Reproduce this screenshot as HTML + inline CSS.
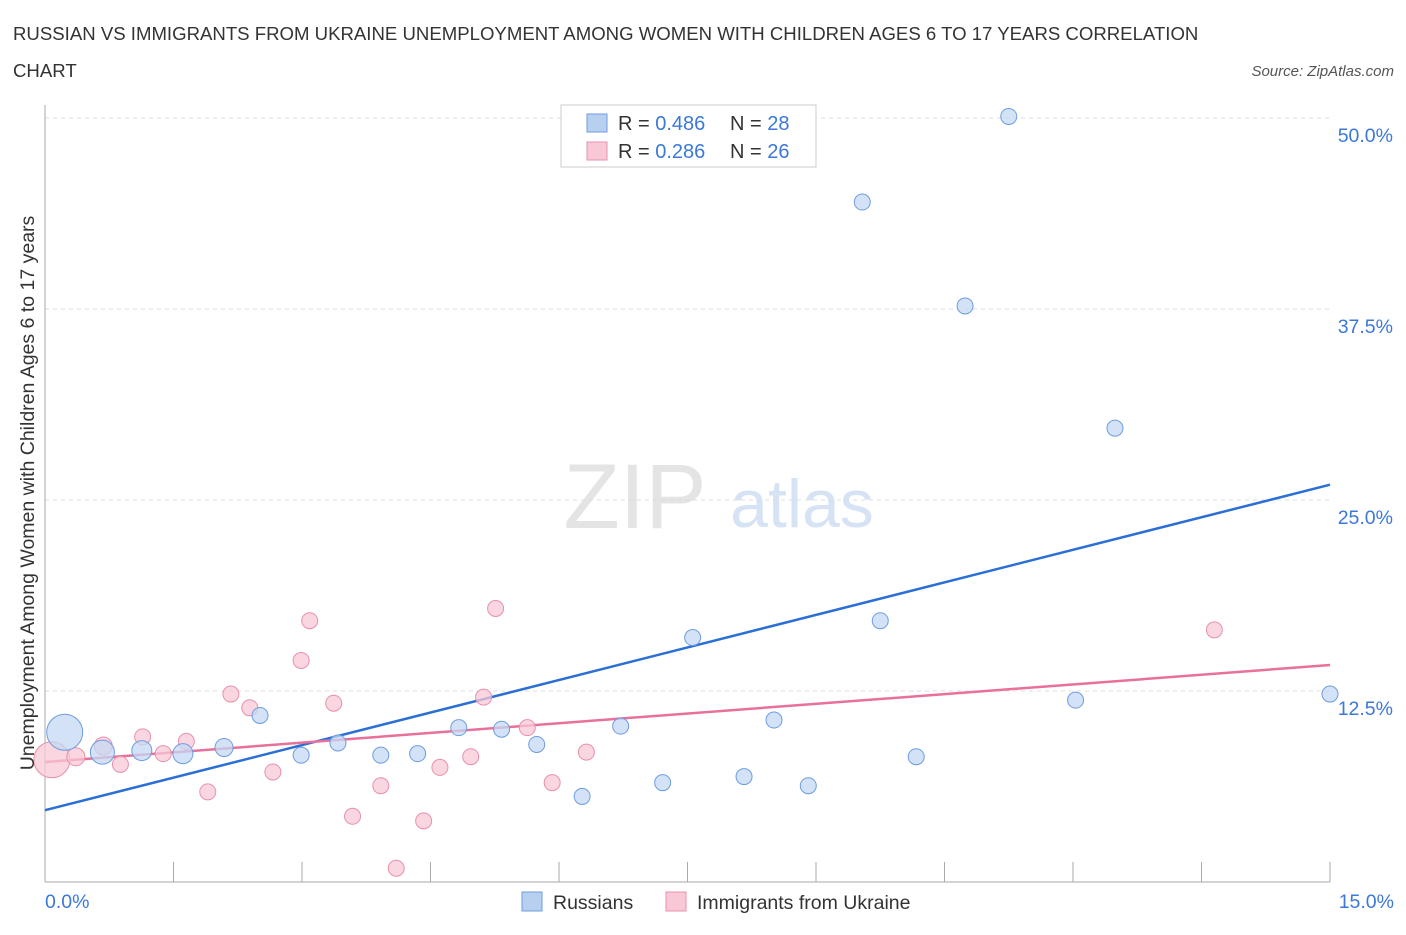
<!DOCTYPE html>
<html><head><meta charset="utf-8"><style>
body{margin:0;background:#fff;font-family:"Liberation Sans",sans-serif;}
svg text{font-family:"Liberation Sans",sans-serif;}
</style></head><body>
<svg id="c" width="1406" height="930">
<text x="13" y="40" font-size="18.6" fill="#333">RUSSIAN VS IMMIGRANTS FROM UKRAINE UNEMPLOYMENT AMONG WOMEN WITH CHILDREN AGES 6 TO 17 YEARS CORRELATION</text>
<text x="13" y="77" font-size="18.6" fill="#333">CHART</text>
<text x="1394" y="76" font-size="15" fill="#555" font-style="italic" text-anchor="end">Source: ZipAtlas.com</text>
<text x="635" y="528" font-size="92" fill="#e4e4e4" font-family="Liberation Serif" text-anchor="middle">ZIP</text>
<text x="802" y="527" font-size="68" fill="#d5e3f5" text-anchor="middle">atlas</text>
<g id="grid"></g><g id="axes"></g><g id="lines"></g><g id="pts"></g>
<text x="34" y="493" font-size="19.5" fill="#333" text-anchor="middle" transform="rotate(-90 34 493)">Unemployment Among Women with Children Ages 6 to 17 years</text>
<text x="45" y="908" font-size="19.5" fill="#3b78d8">0.0%</text>
<text x="1394" y="908" font-size="19.5" fill="#3b78d8" text-anchor="end">15.0%</text>
<g>
<rect x="561" y="105" width="255" height="62" fill="#fff" stroke="#ccc"/>
<rect x="587" y="114" width="20" height="18" fill="#b8d0f0" stroke="#6d9de0"/>
<rect x="587" y="142" width="20" height="18" fill="#f8c8d6" stroke="#e890ab"/>
<text x="618" y="130" font-size="20" fill="#333">R = <tspan fill="#3b78d8">0.486</tspan></text>
<text x="730" y="130" font-size="20" fill="#333">N = <tspan fill="#3b78d8">28</tspan></text>
<text x="618" y="158" font-size="20" fill="#333">R = <tspan fill="#3b78d8">0.286</tspan></text>
<text x="730" y="158" font-size="20" fill="#333">N = <tspan fill="#3b78d8">26</tspan></text>
</g>
<g>
<rect x="522" y="892" width="20" height="19" fill="#b8d0f0" stroke="#6d9de0"/>
<text x="553" y="909" font-size="19.5" fill="#333">Russians</text>
<rect x="666" y="892" width="20" height="19" fill="#f8c8d6" stroke="#e890ab"/>
<text x="697" y="909" font-size="19.5" fill="#333">Immigrants from Ukraine</text>
</g>
</svg>
<script>
const yTicks=[12.5,25,37.5,50];
const yTickLabels=["12.5%","25.0%","37.5%","50.0%"];
const xTicks=[0,1.5,3,4.5,6,7.5,9,10.5,12,13.5,15];
const rusX=[0.23,0.67,1.13,1.61,2.09,2.51,2.99,3.42,3.92,4.35,4.83,5.33,5.74,6.27,6.72,7.21,7.56,8.16,8.51,8.91,9.54,9.75,10.17,10.74,11.25,12.03,12.49,15.0];
const rusY=[9.8,8.5,8.6,8.4,8.8,10.9,8.3,9.1,8.3,8.4,10.1,10.0,9.0,5.6,10.2,6.5,16.0,6.9,10.6,6.3,44.5,17.1,8.2,37.7,50.1,11.9,29.7,12.3];
const rusR=[18,12,10,10,9,8,8,8,8,8,8,8,8,8,8,8,8,8,8,8,8,8,8,8,8,8,8,8];
const ukrX=[0.08,0.36,0.68,0.88,1.14,1.38,1.65,1.90,2.17,2.39,2.66,2.99,3.09,3.37,3.59,3.92,4.10,4.42,4.61,4.97,5.12,5.26,5.63,5.92,6.32,13.65];
const ukrY=[8.0,8.2,8.9,7.7,9.5,8.4,9.2,5.9,12.3,11.4,7.2,14.5,17.1,11.7,4.3,6.3,0.9,4.0,7.5,8.2,12.1,17.9,10.1,6.5,8.5,16.5];
const ukrR=[18,9,9,8,8,8,8,8,8,8,8,8,8,8,8,8,8,8,8,8,8,8,8,8,8,8];
const rusTrend=[4.7,26.0];
const ukrTrend=[7.85,14.2];
const X=v=>45+v*(1285/15), Y=v=>882-v*15.28;
const NS="http://www.w3.org/2000/svg";
function mk(t,a,p){const e=document.createElementNS(NS,t);for(const k in a)e.setAttribute(k,a[k]);p.appendChild(e);return e;}
const g=document.getElementById('grid'),ax=document.getElementById('axes'),ln=document.getElementById('lines'),pt=document.getElementById('pts');
yTicks.forEach((v,i)=>{
 const l=mk('line',{x1:45,x2:1330,y1:Y(v),y2:Y(v),stroke:'#ddd','stroke-dasharray':'4,4'},g);
 
 
 const t=mk('text',{x:1393,y:Y(v)+24,'font-size':19.5,fill:'#3b78d8','text-anchor':'end'},g);
 t.textContent=yTickLabels[i];
 
 
});
const xa=mk('line',{x1:45,x2:1330,y1:882,y2:882,stroke:'#aaa'},ax);


const ya=mk('line',{x1:45,x2:45,y1:105,y2:882,stroke:'#aaa'},ax);


xTicks.forEach(v=>{
 const t=mk('line',{x1:X(v),x2:X(v),y1:862,y2:882,stroke:'#aaa'},ax);
 
 
});
function pts(xs,ys,rs,fill,stroke,name){
 xs.forEach((x,i)=>{
  const c=mk('circle',{cx:X(x),cy:Y(ys[i]),r:rs[i],fill:fill,stroke:stroke,'stroke-width':1,'fill-opacity':0.75},pt);
  
  
 });
}
pts(ukrX,ukrY,ukrR,'#f8c8d6','#e890ab','ukraine-point');
pts(rusX,rusY,rusR,'#c4d8f3','#6d9de0','russians-point');
const l1=mk('line',{x1:X(0),x2:X(15),y1:Y(rusTrend[0]),y2:Y(rusTrend[1]),stroke:'#2b6fd6','stroke-width':2.5},ln);


const l2=mk('line',{x1:X(0),x2:X(15),y1:Y(ukrTrend[0]),y2:Y(ukrTrend[1]),stroke:'#e8709a','stroke-width':2.5},ln);


</script>
</body></html>
